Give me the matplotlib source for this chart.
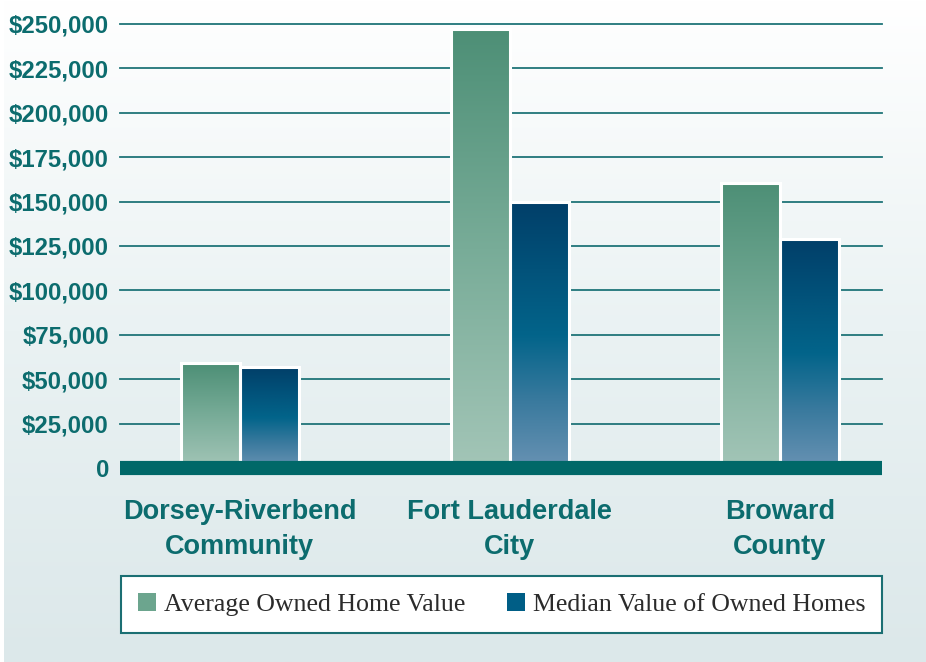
import numpy as np
import matplotlib
matplotlib.use("Agg")
import matplotlib.pyplot as plt
from matplotlib.colors import LinearSegmentedColormap
from matplotlib.patches import Patch, FancyBboxPatch
from matplotlib.font_manager import FontProperties

# data
categories = ["Dorsey-Riverbend\nCommunity", "Fort Lauderdale\nCity", "Broward\nCounty"]
avg_value = [59000, 247000, 160500]
median_value = [56800, 149500, 129000]
ytick_values = [0, 25000, 50000, 75000, 100000, 125000, 150000, 175000, 200000, 225000, 250000]
ytick_labels = ["0", "$25,000", "$50,000", "$75,000", "$100,000", "$125,000",
                "$150,000", "$175,000", "$200,000", "$225,000", "$250,000"]
series_names = ["Average Owned Home Value", "Median Value of Owned Homes"]

teal = "#0c6c6e"
grid_col = "#1f7478"
base_col = "#006868"
avg_cmap = LinearSegmentedColormap.from_list("avg", ["#4d8f76", "#78ac98", "#a3c5b7"])
med_cmap = LinearSegmentedColormap.from_list("med", ["#013f69", "#02527a", "#02648a", "#3a7a9e", "#6892b3"])

W, H = 926, 662
fig = plt.figure(figsize=(W / 100, H / 100), dpi=100)
fig.patch.set_facecolor("white")

# background panel with soft vertical gradient and rounded lower-left corner
bg = fig.add_axes([0, 0, 1, 1], zorder=-5)
bg.set_xlim(0, W)
bg.set_ylim(0, H)
bg.axis("off")
grad = np.linspace(0, 1, 256).reshape(-1, 1)
bg_cmap = LinearSegmentedColormap.from_list("bg", ["#dce8ea", "#eaf2f3", "#ffffff"])
im = bg.imshow(grad, extent=[0, W, 0, H], origin="lower", aspect="auto", cmap=bg_cmap)
panel = FancyBboxPatch((4, -200), W + 200, H + 400, boxstyle="round,pad=0,rounding_size=34",
                       transform=bg.transData, facecolor="none", edgecolor="none")
bg.add_patch(panel)
im.set_clip_path(panel)

# main plot area
left, right = 120 / W, 882 / W
bottom = (H - 468) / H
top = (H - 24) / H
ax = fig.add_axes([left, bottom, right - left, top - bottom])
ax.set_facecolor("none")

x = np.arange(len(categories))
w = 0.218

for yv in ytick_values[1:]:
    ax.axhline(yv, color=grid_col, lw=1.3, zorder=1, clip_on=False)

def gradient_bars(xpos, vals, cmap):
    bars = ax.bar(xpos, vals, w, facecolor="none", edgecolor="white", lw=2.2, zorder=3)
    for b in bars:
        bx, bw, bh = b.get_x(), b.get_width(), b.get_height()
        ax.imshow(grad[::-1], extent=[bx, bx + bw, 0, bh], origin="lower",
                  aspect="auto", cmap=cmap, zorder=2.5)
    return bars

gradient_bars(x - w / 2, avg_value, avg_cmap)
gradient_bars(x + w / 2, median_value, med_cmap)

ax.axhline(0, color=base_col, lw=10.2, zorder=4, clip_on=False, solid_capstyle="butt")

ax.set_xlim(-0.444, 2.378)
ax.set_ylim(0, 250000)
for s in ax.spines.values():
    s.set_visible(False)

ax.set_yticks(ytick_values)
ax.set_yticklabels(ytick_labels, fontsize=17.2, fontweight="bold", color=teal,
                   family="Liberation Sans")
ax.set_xticks(x)
ax.set_xticklabels(categories, fontsize=19.5, fontweight="bold", color=teal,
                   family="Liberation Sans", linespacing=1.45)
ax.tick_params(axis="y", length=0, pad=8)
ax.tick_params(axis="x", length=0, pad=22)

handles = [Patch(facecolor="#6ca58e", label=series_names[0]),
           Patch(facecolor="#005e86", label=series_names[1])]
leg = fig.legend(handles=handles, loc="center", mode="expand", ncol=2,
                 bbox_to_anchor=(121 / W, (H - 634) / H, 761 / W, 59 / H),
                 borderaxespad=0,
                 prop=FontProperties(family="Liberation Serif", size=18.6),
                 handlelength=0.7, handleheight=0.7, handletextpad=0.3,
                 borderpad=0.65, columnspacing=1.3, fancybox=False,
                 frameon=True, framealpha=1, edgecolor="#1b6f73")
leg.get_frame().set_linewidth(1.5)
for t in leg.get_texts():
    t.set_color("#2b2b2b")

fig.savefig("out.png", dpi=100)
